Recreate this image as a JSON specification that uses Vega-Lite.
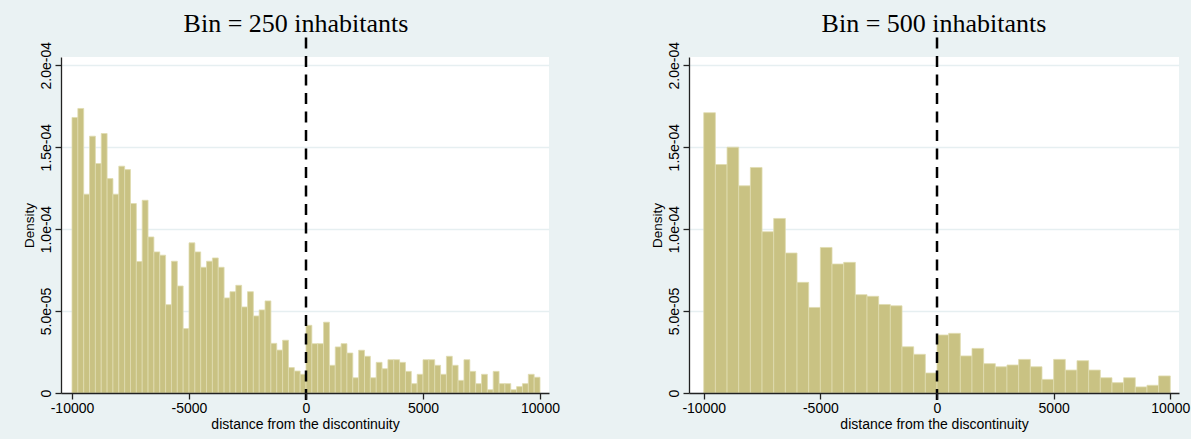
{
  "$schema": "https://vega.github.io/schema/vega-lite/v6.json",
  "background": "#EAF2F3",
  "padding": {"left": 22, "top": 10, "right": 1, "bottom": 8},
  "spacing": 140,
  "bounds": "flush",
  "config": {
    "view": {"fill": "white", "stroke": null},
    "axis": {
      "labelFont": "Liberation Sans", "titleFont": "Liberation Sans",
      "labelFontSize": 14, "titleFontSize": 14, "titleFontWeight": "normal",
      "labelColor": "black", "titleColor": "black",
      "domainColor": "#222", "tickColor": "#222", "domainWidth": 1.3, "tickWidth": 1.3,
      "tickSize": 6, "gridColor": "#E6EFF1", "gridWidth": 1.3, "labelFlush": false, "labelOverlap": false
    },
    "title": {"font": "Liberation Serif", "fontSize": 26, "fontWeight": "normal", "color": "black", "anchor": "middle", "frame": "group", "baseline": "alphabetic"}
  },
  "datasets": {
    "bin250": [
      {"bin_start": -10000, "bin_end": -9750, "density": 0.0001681},
      {"bin_start": -9750, "bin_end": -9500, "density": 0.0001736},
      {"bin_start": -9500, "bin_end": -9250, "density": 0.0001213},
      {"bin_start": -9250, "bin_end": -9000, "density": 0.0001567},
      {"bin_start": -9000, "bin_end": -8750, "density": 0.0001400},
      {"bin_start": -8750, "bin_end": -8500, "density": 0.0001583},
      {"bin_start": -8500, "bin_end": -8250, "density": 0.0001308},
      {"bin_start": -8250, "bin_end": -8000, "density": 0.0001213},
      {"bin_start": -8000, "bin_end": -7750, "density": 0.0001384},
      {"bin_start": -7750, "bin_end": -7500, "density": 0.0001363},
      {"bin_start": -7500, "bin_end": -7250, "density": 0.0001156},
      {"bin_start": -7250, "bin_end": -7000, "density": 0.0000802},
      {"bin_start": -7000, "bin_end": -6750, "density": 0.0001176},
      {"bin_start": -6750, "bin_end": -6500, "density": 0.0000952},
      {"bin_start": -6500, "bin_end": -6250, "density": 0.0000861},
      {"bin_start": -6250, "bin_end": -6000, "density": 0.0000841},
      {"bin_start": -6000, "bin_end": -5750, "density": 0.0000539},
      {"bin_start": -5750, "bin_end": -5500, "density": 0.0000804},
      {"bin_start": -5500, "bin_end": -5250, "density": 0.0000653},
      {"bin_start": -5250, "bin_end": -5000, "density": 0.0000393},
      {"bin_start": -5000, "bin_end": -4750, "density": 0.0000916},
      {"bin_start": -4750, "bin_end": -4500, "density": 0.0000861},
      {"bin_start": -4500, "bin_end": -4250, "density": 0.0000767},
      {"bin_start": -4250, "bin_end": -4000, "density": 0.0000804},
      {"bin_start": -4000, "bin_end": -3750, "density": 0.0000824},
      {"bin_start": -3750, "bin_end": -3500, "density": 0.0000767},
      {"bin_start": -3500, "bin_end": -3250, "density": 0.0000580},
      {"bin_start": -3250, "bin_end": -3000, "density": 0.0000618},
      {"bin_start": -3000, "bin_end": -2750, "density": 0.0000657},
      {"bin_start": -2750, "bin_end": -2500, "density": 0.0000525},
      {"bin_start": -2500, "bin_end": -2250, "density": 0.0000618},
      {"bin_start": -2250, "bin_end": -2000, "density": 0.0000470},
      {"bin_start": -2000, "bin_end": -1750, "density": 0.0000507},
      {"bin_start": -1750, "bin_end": -1500, "density": 0.0000562},
      {"bin_start": -1500, "bin_end": -1250, "density": 0.0000303},
      {"bin_start": -1250, "bin_end": -1000, "density": 0.0000262},
      {"bin_start": -1000, "bin_end": -750, "density": 0.0000322},
      {"bin_start": -750, "bin_end": -500, "density": 0.0000155},
      {"bin_start": -500, "bin_end": -250, "density": 0.0000134},
      {"bin_start": -250, "bin_end": 0, "density": 0.0000114},
      {"bin_start": 0, "bin_end": 250, "density": 0.0000413},
      {"bin_start": 250, "bin_end": 500, "density": 0.0000301},
      {"bin_start": 500, "bin_end": 750, "density": 0.0000301},
      {"bin_start": 750, "bin_end": 1000, "density": 0.0000432},
      {"bin_start": 1000, "bin_end": 1250, "density": 0.0000169},
      {"bin_start": 1250, "bin_end": 1500, "density": 0.0000281},
      {"bin_start": 1500, "bin_end": 1750, "density": 0.0000301},
      {"bin_start": 1750, "bin_end": 2000, "density": 0.0000244},
      {"bin_start": 2000, "bin_end": 2250, "density": 0.0000093},
      {"bin_start": 2250, "bin_end": 2500, "density": 0.0000261},
      {"bin_start": 2500, "bin_end": 2750, "density": 0.0000224},
      {"bin_start": 2750, "bin_end": 3000, "density": 0.0000093},
      {"bin_start": 3000, "bin_end": 3250, "density": 0.0000187},
      {"bin_start": 3250, "bin_end": 3500, "density": 0.0000148},
      {"bin_start": 3500, "bin_end": 3750, "density": 0.0000203},
      {"bin_start": 3750, "bin_end": 4000, "density": 0.0000203},
      {"bin_start": 4000, "bin_end": 4250, "density": 0.0000187},
      {"bin_start": 4250, "bin_end": 4500, "density": 0.0000132},
      {"bin_start": 4500, "bin_end": 4750, "density": 0.0000057},
      {"bin_start": 4750, "bin_end": 5000, "density": 0.0000114},
      {"bin_start": 5000, "bin_end": 5250, "density": 0.0000203},
      {"bin_start": 5250, "bin_end": 5500, "density": 0.0000203},
      {"bin_start": 5500, "bin_end": 5750, "density": 0.0000169},
      {"bin_start": 5750, "bin_end": 6000, "density": 0.0000114},
      {"bin_start": 6000, "bin_end": 6250, "density": 0.0000224},
      {"bin_start": 6250, "bin_end": 6500, "density": 0.0000169},
      {"bin_start": 6500, "bin_end": 6750, "density": 0.0000077},
      {"bin_start": 6750, "bin_end": 7000, "density": 0.0000203},
      {"bin_start": 7000, "bin_end": 7250, "density": 0.0000132},
      {"bin_start": 7250, "bin_end": 7500, "density": 0.0000057},
      {"bin_start": 7500, "bin_end": 7750, "density": 0.0000114},
      {"bin_start": 7750, "bin_end": 8000, "density": 0.0000020},
      {"bin_start": 8000, "bin_end": 8250, "density": 0.0000132},
      {"bin_start": 8250, "bin_end": 8500, "density": 0.0000057},
      {"bin_start": 8500, "bin_end": 8750, "density": 0.0000057},
      {"bin_start": 8750, "bin_end": 9000, "density": 0.0000020},
      {"bin_start": 9000, "bin_end": 9250, "density": 0.0000039},
      {"bin_start": 9250, "bin_end": 9500, "density": 0.0000057},
      {"bin_start": 9500, "bin_end": 9750, "density": 0.0000114},
      {"bin_start": 9750, "bin_end": 10000, "density": 0.0000096}
    ],
    "bin500": [
      {"bin_start": -10000, "bin_end": -9500, "density": 0.0001710},
      {"bin_start": -9500, "bin_end": -9000, "density": 0.0001394},
      {"bin_start": -9000, "bin_end": -8500, "density": 0.0001500},
      {"bin_start": -8500, "bin_end": -8000, "density": 0.0001264},
      {"bin_start": -8000, "bin_end": -7500, "density": 0.0001376},
      {"bin_start": -7500, "bin_end": -7000, "density": 0.0000984},
      {"bin_start": -7000, "bin_end": -6500, "density": 0.0001065},
      {"bin_start": -6500, "bin_end": -6000, "density": 0.0000854},
      {"bin_start": -6000, "bin_end": -5500, "density": 0.0000675},
      {"bin_start": -5500, "bin_end": -5000, "density": 0.0000522},
      {"bin_start": -5000, "bin_end": -4500, "density": 0.0000888},
      {"bin_start": -4500, "bin_end": -4000, "density": 0.0000787},
      {"bin_start": -4000, "bin_end": -3500, "density": 0.0000797},
      {"bin_start": -3500, "bin_end": -3000, "density": 0.0000600},
      {"bin_start": -3000, "bin_end": -2500, "density": 0.0000590},
      {"bin_start": -2500, "bin_end": -2000, "density": 0.0000540},
      {"bin_start": -2000, "bin_end": -1500, "density": 0.0000532},
      {"bin_start": -1500, "bin_end": -1000, "density": 0.0000282},
      {"bin_start": -1000, "bin_end": -500, "density": 0.0000236},
      {"bin_start": -500, "bin_end": 0, "density": 0.0000122},
      {"bin_start": 0, "bin_end": 500, "density": 0.0000354},
      {"bin_start": 500, "bin_end": 1000, "density": 0.0000364},
      {"bin_start": 1000, "bin_end": 1500, "density": 0.0000226},
      {"bin_start": 1500, "bin_end": 2000, "density": 0.0000272},
      {"bin_start": 2000, "bin_end": 2500, "density": 0.0000179},
      {"bin_start": 2500, "bin_end": 3000, "density": 0.0000160},
      {"bin_start": 3000, "bin_end": 3500, "density": 0.0000171},
      {"bin_start": 3500, "bin_end": 4000, "density": 0.0000205},
      {"bin_start": 4000, "bin_end": 4500, "density": 0.0000160},
      {"bin_start": 4500, "bin_end": 5000, "density": 0.0000083},
      {"bin_start": 5000, "bin_end": 5500, "density": 0.0000205},
      {"bin_start": 5500, "bin_end": 6000, "density": 0.0000140},
      {"bin_start": 6000, "bin_end": 6500, "density": 0.0000197},
      {"bin_start": 6500, "bin_end": 7000, "density": 0.0000140},
      {"bin_start": 7000, "bin_end": 7500, "density": 0.0000093},
      {"bin_start": 7500, "bin_end": 8000, "density": 0.0000063},
      {"bin_start": 8000, "bin_end": 8500, "density": 0.0000093},
      {"bin_start": 8500, "bin_end": 9000, "density": 0.0000037},
      {"bin_start": 9000, "bin_end": 9500, "density": 0.0000047},
      {"bin_start": 9500, "bin_end": 10000, "density": 0.0000104}
    ],
    "cutoff": [{"threshold": 0}]
  },
  "hconcat": [
    {
      "title": {"text": "Bin = 250 inhabitants", "dx": -9, "offset": -7},
      "width": 488,
      "height": 336,
      "layer": [
        {
          "data": {"name": "bin250"},
          "mark": {"type": "rect", "fill": "#C9C283", "stroke": "#E0DCB0", "strokeWidth": 0.8},
          "encoding": {
            "x": {"field": "bin_start", "type": "quantitative", "scale": {"domain": [-10470, 10384], "nice": false, "zero": false},
              "axis": {"title": "distance from the discontinuity", "grid": false, "values": [-10000, -5000, 0, 5000, 10000], "labelExpr": "'' + datum.value", "labelPadding": 2, "titleY": 35, "titleBaseline": "alphabetic", "zindex": 1}},
            "x2": {"field": "bin_end"},
            "y": {"field": "density", "type": "quantitative", "scale": {"domain": [0, 0.000205], "nice": false},
              "axis": {"title": "Density", "grid": true, "values": [0, 0.00005, 0.0001, 0.00015, 0.0002], "labelExpr": "datum.value == 0 ? '0' : replace(format(datum.value, '.1e'), 'e-', 'e-0')", "labelAngle": -90, "labelAlign": "center", "labelBaseline": "bottom", "labelPadding": 2, "titleAngle": -90, "titleX": -32, "titleY": 168, "titleAlign": "center", "titleBaseline": "middle", "titleFontSize": 13.5}},
            "y2": {"datum": 0}
          }
        },
        {
          "data": {"name": "cutoff"},
          "mark": {"type": "rule", "color": "black", "strokeWidth": 2.5, "strokeDash": [11, 7.5], "clip": false},
          "encoding": {
            "x": {"field": "threshold", "type": "quantitative"},
            "y": {"datum": -0.0000043, "type": "quantitative"},
            "y2": {"datum": 0.000221}
          }
        }
      ]
    },
    {
      "title": {"text": "Bin = 500 inhabitants", "dx": 0, "offset": -7},
      "width": 490,
      "height": 336,
      "layer": [
        {
          "data": {"name": "bin500"},
          "mark": {"type": "rect", "fill": "#C9C283", "stroke": "#E0DCB0", "strokeWidth": 0.8},
          "encoding": {
            "x": {"field": "bin_start", "type": "quantitative", "scale": {"domain": [-10631, 10373], "nice": false, "zero": false},
              "axis": {"title": "distance from the discontinuity", "grid": false, "values": [-10000, -5000, 0, 5000, 10000], "labelExpr": "'' + datum.value", "labelPadding": 2, "titleY": 35, "titleBaseline": "alphabetic", "zindex": 1}},
            "x2": {"field": "bin_end"},
            "y": {"field": "density", "type": "quantitative", "scale": {"domain": [0, 0.000205], "nice": false},
              "axis": {"title": "Density", "grid": true, "values": [0, 0.00005, 0.0001, 0.00015, 0.0002], "labelExpr": "datum.value == 0 ? '0' : replace(format(datum.value, '.1e'), 'e-', 'e-0')", "labelAngle": -90, "labelAlign": "center", "labelBaseline": "bottom", "labelPadding": 2, "titleAngle": -90, "titleX": -32, "titleY": 168, "titleAlign": "center", "titleBaseline": "middle", "titleFontSize": 13.5}},
            "y2": {"datum": 0}
          }
        },
        {
          "data": {"name": "cutoff"},
          "mark": {"type": "rule", "color": "black", "strokeWidth": 2.5, "strokeDash": [11, 7.5], "clip": false},
          "encoding": {
            "x": {"field": "threshold", "type": "quantitative"},
            "y": {"datum": -0.0000043, "type": "quantitative"},
            "y2": {"datum": 0.000221}
          }
        }
      ]
    }
  ]
}
